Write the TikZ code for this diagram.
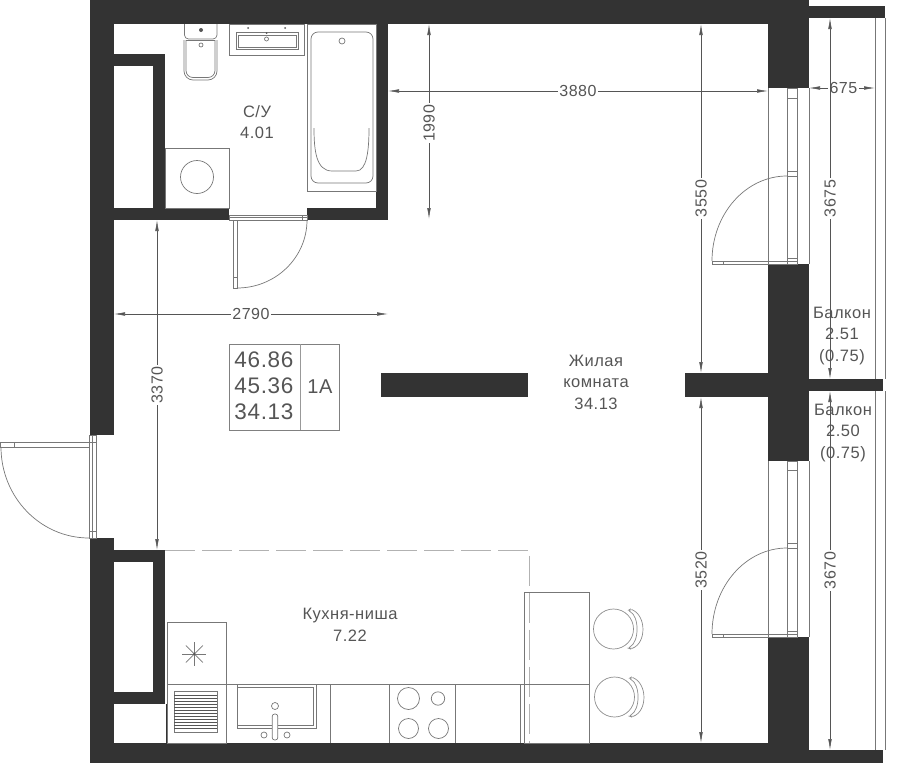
\documentclass[tikz,border=0pt]{standalone}
\usepackage{fontspec}
\setmainfont[LetterSpace=3]{Liberation Sans}
\usetikzlibrary{calc,arrows.meta}
\definecolor{wallgray}{HTML}{333333}
\definecolor{inkgray}{HTML}{555555}
\definecolor{linegray}{HTML}{777777}
\tikzset{
  wall/.style={fill=wallgray,draw=none},
  thinline/.style={draw=linegray,line width=0.7pt},
  lightline/.style={draw=black!45,line width=0.7pt},
  hidden/.style={draw=black!30,line width=0.7pt,dash pattern=on 30pt off 7pt},
  dimline/.style={draw=inkgray,line width=0.6pt,{Latex[length=11pt,width=3.6pt]}-{Latex[length=11pt,width=3.6pt]}},
  dimtext/.style={fill=white,inner sep=1.5pt,text=inkgray,font=\fontsize{16}{16}\selectfont},
  roomtext/.style={text=inkgray,align=center,font=\fontsize{16.5}{21.5}\selectfont},
  tabletext/.style={text=inkgray,font=\fontsize{22.5}{22.5}\selectfont},
}
\begin{document}
\begin{tikzpicture}[x=1pt,y=-1pt]
  \useasboundingbox (0,0) rectangle (900,763);

  %% Walls, all of them filled rectangles
  \foreach \xa/\ya/\xb/\yb in {90/0/809/24, 90/0/114/435, 90/538/114/763, 90/743/809/763,
    114/54/165/66, 153/54/165/220, 90/208/229/220, 307/208/388/220, 376/24/388/220,
    114/550/165/562, 153/550/165/704, 114/692/165/704,
    768/0/809/88, 768/264/809/461, 768/637/809/743,
    809/6/885/18, 685/373/809/397, 809/379/883/391, 809/750/883/763, 381/373/528/397}
  {
    \fill[wall] (\xa,\ya) rectangle (\xb,\yb);
  }

  %% Balcony rails
  \foreach \x in {875,885}
  {
    \draw[thinline] (\x,18) -- (\x,379);
    \draw[thinline] (\x,391) -- (\x,750);
  }

  %% Balcony windows and doors
  \foreach \ya/\yb/\yc/\yd/\ye in {88/264/98/176/258, 461/637/470/548/631}
  {
    \draw[thinline] (768,\ya) -- (768,\yb);
    \draw[thinline] (809,\ya) -- (809,\yb);
    \draw[thinline] (787,\ya) rectangle (797,\yb);
    \draw[thinline] (787,\yc) -- (797,\yc);
    \draw[thinline] (787,\yd) -- (797,\yd);
    \draw[thinline] (787,\yd-5) -- (797,\yd-5);
    \draw[thinline] (787,\ye) -- (797,\ye);
    \draw[thinline] (712,\yb-3) rectangle (797,\yb);
    \draw[thinline] (723,\yb-3) -- (723,\yb);
    \draw[thinline] (712,\yb-3) arc[start angle=180,end angle=270,x radius=75,y radius=\yb-3-\yd];
  }

  %% Bathroom door
  \draw[thinline] (229,215) rectangle (307,220);
  \draw[thinline] (229,217) -- (307,217);
  \draw[thinline] (302,215) -- (302,220);
  \draw[thinline] (233,220) rectangle (237,288);
  \draw[thinline] (233,277) -- (237,277);
  \draw[thinline] (237,288) arc[start angle=90,end angle=0,x radius=70,y radius=68];

  %% Entrance door
  \draw[thinline] (89,435) rectangle (96,538);
  \draw[thinline] (92,435) -- (92,538);
  \draw[thinline] (89,442) -- (96,442);
  \draw[thinline] (89,531) -- (96,531);
  \draw[thinline] (0,442) rectangle (89,447);
  \draw[thinline] (14,442) -- (14,447);
  \draw[thinline] (1,447) arc[start angle=180,end angle=90,x radius=88,y radius=91];

  %% Toilet
  \draw[thinline,rounded corners=4pt] (184.5,24) -- (184.5,39) -- (217,39) -- (217,24);
  \draw[thinline,rounded corners=9pt] (184,40) -- (184,80) -- (217,80) -- (217,40);
  \draw[thinline,rounded corners=7pt] (186,40) -- (186,77.5) -- (215,77.5) -- (215,40);
  \draw[thinline] (186,40) -- (215,40);
  \draw[thinline] (201,45) circle (2);
  \fill[inkgray] (201,30) circle (2);

  %% Washbasin
  \draw[thinline] (229,24) rectangle (304,55);
  \draw[thinline] (236,32) rectangle (298,49);
  \draw[thinline] (238,35) rectangle (296,47);
  \draw[thinline] (266.5,39) circle (2);
  \foreach \x/\y in {248/28,285/28,266.5/33}
  {
    \fill[inkgray] (\x,\y) circle (1);
  }

  %% Bathtub
  \draw[thinline] (307.5,24) rectangle (376,191);
  \draw[thinline,rounded corners=7pt] (311,32) rectangle (373,183);
  \draw[thinline] (342,41) circle (3);
  \draw[thinline] (314,128) .. controls (314,150) and (316,171) .. (332,171) -- (356,171) .. controls (367,171) and (369,150) .. (369,128);

  %% Washing machine
  \draw[thinline] (165,148) rectangle (229,208);
  \draw[thinline] (197,177) circle (16.5);

  %% Kitchen
  \draw[hidden] (165,550) -- (529.5,550) -- (529.5,743);
  \draw[thinline] (167,684) -- (589,684);
  \draw[thinline] (524,592) rectangle (589,743);
  \draw[thinline] (520,684) -- (520,743);
  \draw[thinline] (167,622) rectangle (226,743);
  \draw[line width=1pt,draw=wallgray] (166,704) -- (166,743);
  \foreach \x in {330,389.5,455}
  {
    \draw[thinline] (\x,684) -- (\x,743);
  }

  %% Fridge mark
  \foreach \a in {0,45,...,315}
  {
    \draw[thinline] (194.3,654) -- ++(\a:12);
  }
  \fill[inkgray] (194.3,654) circle (1.3);

  %% Dishwasher grille
  \draw[thinline] (174,691) rectangle (217,732);
  \foreach \y in {695,698,...,728}
  {
    \draw[draw=inkgray,line width=1pt] (174,\y) -- (217,\y);
  }

  %% Kitchen sink
  \draw[thinline] (237,684) -- (237,728) -- (316.5,728) -- (316.5,684);
  \draw[thinline] (237,687) -- (313,687) -- (313,725) -- (237,725);
  \draw[thinline,fill=white,rounded corners=2.5pt] (272.2,714) rectangle (277.8,740);
  \draw[thinline] (275,706) circle (3.5);
  \draw[thinline] (264,735) circle (3);
  \draw[thinline] (287,735) circle (3);

  %% Hob
  \foreach \x/\y/\r in {408.5/698.5/11,438/698.5/6.7,408.5/728.5/10,438.5/728.5/10}
  {
    \draw[thinline] (\x,\y) circle (\r);
  }

  %% Chairs
  \foreach \x/\y in {613.5/629,614.5/697}
  {
    \draw[lightline] (\x,\y) circle (20);
    \draw[lightline,rounded corners=2pt] ($(\x,\y)+(14.5,-18.5)$) .. controls ($(\x,\y)+(26,-13)$) and ($(\x,\y)+(26,13)$) .. ($(\x,\y)+(14.5,19)$) -- ($(\x,\y)+(17,20)$) .. controls ($(\x,\y)+(33,14)$) and ($(\x,\y)+(33,-13)$) .. ($(\x,\y)+(17,-20)$) -- cycle;
  }

  %% Dimensions: name/start/end/position of the text/rotation
  \foreach \name/\ax/\ay/\bx/\by/\where/\rot in {
    3880/388/91/768/91/0.5/0, 675/809/88/875/88/0.52/0,
    1990/429/24/429/219/0.51/90, 3550/701/24/701/373/0.5/90,
    3675/830/18/830/379/0.5/90, 3520/701/397/701/743/0.5/90,
    3670/830/391/830/750/0.5/90, 3370/157/220/157/550/0.5/90,
    2790/114/314/388/314/0.5/0}
  {
    \coordinate (A\name) at (\ax,\ay);
    \coordinate (B\name) at (\bx,\by);
    \draw[dimline] (A\name) -- (B\name) node[dimtext,pos=\where,rotate=\rot] (L\name) {\name};
  }

  %% Room labels
  \node[roomtext] (bath) at (257,122) {С/У\\4.01};
  \node[roomtext] (living) at (596,382) {Жилая\\комната\\34.13};
  \node[roomtext] (kitchen) at (350,625) {Кухня-ниша\\7.22};
  \node[roomtext] (balconyA) at (842,336) {Балкон\\2.51\\(0.75)};
  \node[roomtext] (balconyB) at (843,433) {Балкон\\2.50\\(0.75)};

  %% Area table
  \draw[draw=black!50,line width=0.8pt] (229,344) rectangle (339,430);
  \draw[draw=black!40,line width=0.8pt] (300,344) -- (300,430);
  \foreach \y/\area in {360/46.86,386/45.36,412/34.13}
  {
    \node[tabletext,anchor=east] (area\y) at (297,\y) {\area};
  }
  \node[tabletext,font=\fontsize{20}{20}\selectfont] (flat) at (320,387) {1А};
\end{tikzpicture}
\end{document}
